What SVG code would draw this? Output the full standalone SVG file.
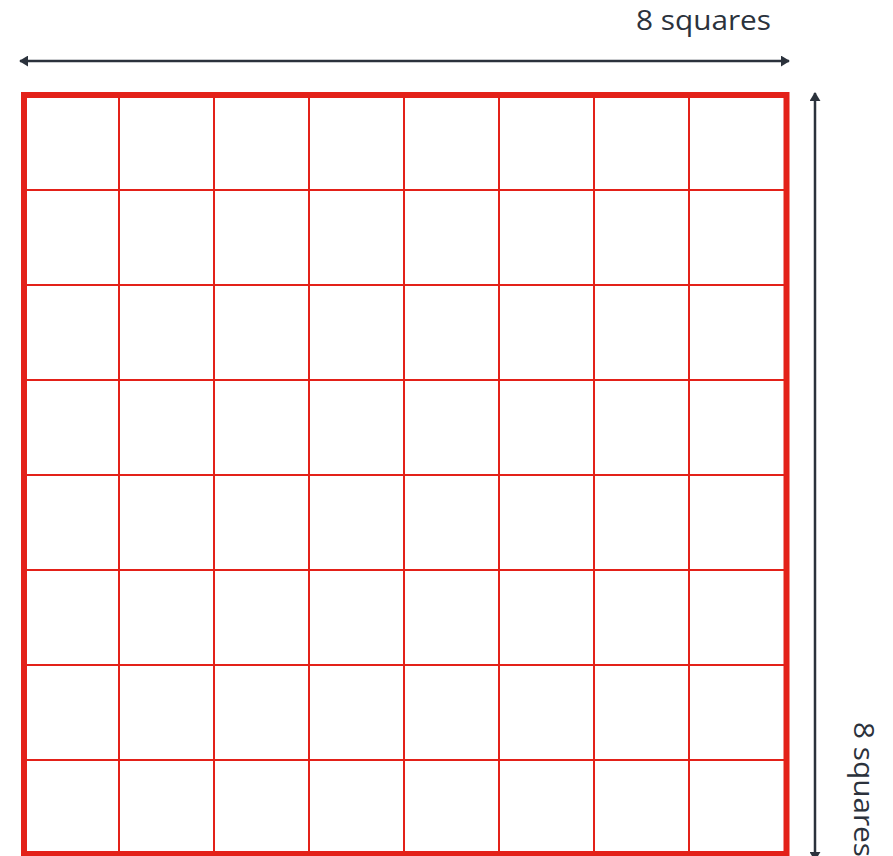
<svg xmlns="http://www.w3.org/2000/svg" width="893" height="856" viewBox="0 0 893 856">
<defs>
<marker id="ah" viewBox="0 0 10 10" refX="9" refY="5" markerWidth="9" markerHeight="11" markerUnits="userSpaceOnUse" orient="auto-start-reverse" preserveAspectRatio="none"><path d="M0,0 L10,5 L0,10 z" fill="#2b323c"/></marker>
</defs>
<style>
.thin{stroke:#e32119;stroke-width:2;fill:none}
.thick{stroke:#e32119;stroke-width:6;fill:none}
.dim{stroke:#2b323c;stroke-width:2.5;fill:none}
.lbl{font-family:"Open Sans","Liberation Sans",sans-serif;font-size:28px;fill:#2b323c}
</style>
<rect width="893" height="856" fill="#ffffff"/>
<g id="grid">
<path class="thin" d="M119,95V856M214,95V856M309,95V856M404,95V856M499,95V856M594,95V856M689,95V856M24,190H786M24,285H786M24,380H786M24,475H786M24,570H786M24,665H786M24,760H786"/>
<rect id="board" class="thick" x="24" y="95" width="762.5" height="759"/>
</g>
<g id="connectors">
<line class="dim" x1="20" y1="61" x2="789" y2="61" marker-start="url(#ah)" marker-end="url(#ah)"/>
<line class="dim" x1="815" y1="93" x2="815" y2="860" marker-start="url(#ah)" marker-end="url(#ah)"/>
</g>
<g id="labels">
<text class="lbl" x="636" y="30" textLength="135" lengthAdjust="spacingAndGlyphs">8 squares</text>
<text class="lbl" transform="translate(854,722) rotate(90)" x="0" y="0" textLength="135" lengthAdjust="spacingAndGlyphs">8 squares</text>
</g>
</svg>
